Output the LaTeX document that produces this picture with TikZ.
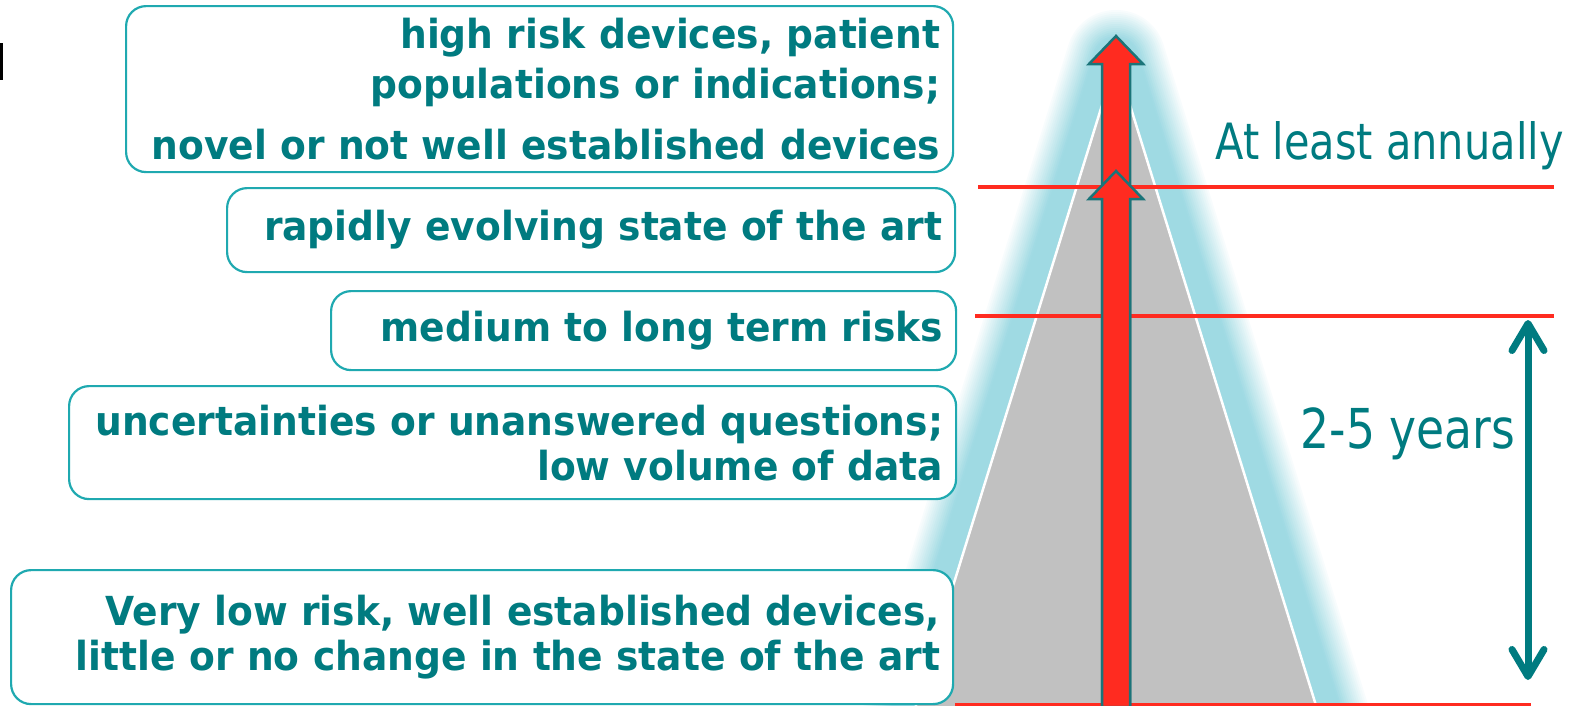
\documentclass[tikz,border=0pt]{standalone}
\usepackage{fontspec}
\usetikzlibrary{arrows.meta}
\newfontfamily\riskfont[FakeStretch=0.94]{DejaVu Sans}
\newfontfamily\periodfont[FakeStretch=0.83]{DejaVu Sans}
\definecolor{tealtext}{HTML}{007B80}
\definecolor{boxline}{HTML}{1FA9B0}
\definecolor{redline}{HTML}{FF2B20}
\definecolor{pyramid}{HTML}{C1C1C1}
\definecolor{halo}{HTML}{9FDAE3}
\definecolor{arrowedge}{HTML}{1B7479}
\begin{document}
\begin{tikzpicture}[
		x=1pt, y=-1pt,
		every node/.style={
				font=\riskfont\bfseries\fontsize{40}{45}\selectfont,
				text=tealtext,
			},
		riskbox/.style={
				draw=boxline, line width=2.2pt, fill=white,
				rounded corners=20pt, anchor=north west, align=right,
				inner xsep=13pt, inner ysep=0pt,
			},
		period/.style={
				font=\periodfont\fontsize{50}{55}\selectfont,
				anchor=base west,
			},
		redrule/.style={redline, line width=4pt},
	]
	\useasboundingbox (0,0) rectangle (1572,705);
	\fill[black] (0,43) rectangle (3,80);

	% pyramid with its glow
	\coordinate (apex) at (1116,60);
	\coordinate (baseL) at (896,770);
	\coordinate (baseR) at (1336,770);
	\begin{scope}
		\clip (0,0) rectangle (1572,705);
		\foreach \i in {1,...,17} {
				\pgfmathsetmacro\w{104-4*\i}
				\pgfmathtruncatemacro\p{min(100,7*\i)}
				\draw[draw=halo!\p!white, line width=\w pt, line join=round]
				(apex) -- (baseL) -- (baseR) -- cycle;
			}
		\filldraw[fill=pyramid, draw=white, line width=2.5pt] (apex) -- (baseL) -- (baseR) -- cycle;
	\end{scope}

	\draw[redrule] (978,187) -- (1554,187);
	\draw[redrule] (975,316) -- (1554,316);
	\draw[redline, line width=3pt] (955,704) -- (1531,704);

	% red arrows up the middle
	\foreach \tip in {36,171} {
			\filldraw[fill=redline, draw=arrowedge, line width=2.5pt]
			(1102,707) -- (1102,\tip+28) -- (1089,\tip+28) -- (1116,\tip)
			-- (1143,\tip+28) -- (1130,\tip+28) -- (1130,707) -- cycle;
		}

	\node[riskbox, text width=801pt, minimum height=166pt] (high) at (125,5)
	{high risk devices, patient\\[5pt] populations or indications;\\[16pt] novel or not well established devices};
	\node[riskbox, text width=702pt, minimum height=84pt] (rapid) at (226,187)
	{rapidly evolving state of the art};
	\node[riskbox, text width=599pt, minimum height=79pt] (medium) at (330,290)
	{medium to long term risks};
	\node[riskbox, text width=861pt, minimum height=113pt] (uncertain) at (68,385)
	{uncertainties or unanswered questions;\\ low volume of data};
	\node[riskbox, text width=916pt, minimum height=134pt] (low) at (10,569)
	{Very low risk, well established devices,\\ little or no change in the state of the art};

	\node[period] (annual) at (1212,159) {At least annually};
	\node[period, font=\periodfont\fontsize{55}{60}\selectfont] (years) at (1297,448) {2-5 years};

	\coordinate (spantop) at (1528,320);
	\coordinate (spanbot) at (1528,680);
	\draw[tealtext, line width=7pt,
		{Straight Barb[round, length=27pt, width=32pt]}-{Straight Barb[round, length=27pt, width=32pt]}]
	(spantop) -- (spanbot);
\end{tikzpicture}
\end{document}
